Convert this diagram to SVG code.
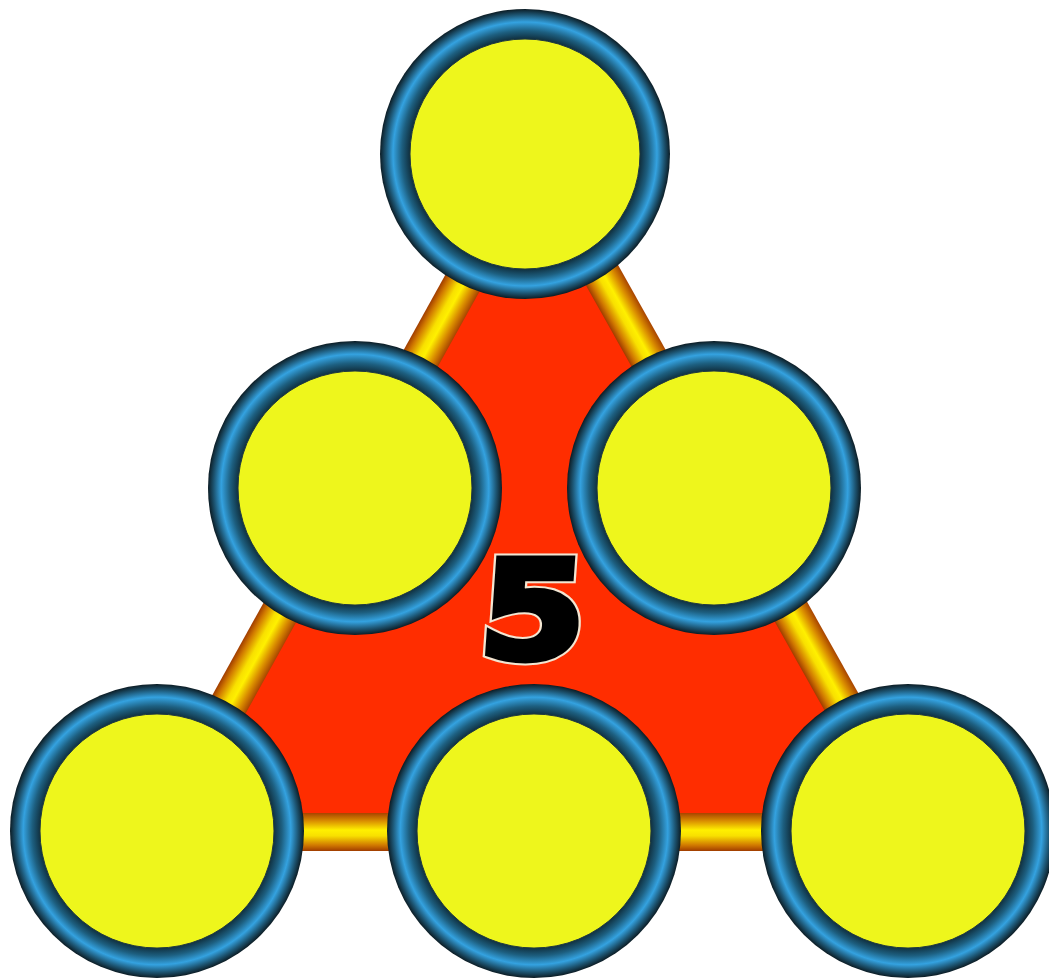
<svg xmlns="http://www.w3.org/2000/svg" width="1049" height="978" viewBox="0 0 1049 978">
  <defs>
    <radialGradient id="ring" cx="0.5" cy="0.5" r="0.5">
      <stop offset="0.79" stop-color="#0f2c3a"/>
      <stop offset="0.85" stop-color="#1d5f80"/>
      <stop offset="0.91" stop-color="#34a2e0"/>
      <stop offset="0.96" stop-color="#1d5674"/>
      <stop offset="1" stop-color="#0c1c24"/>
    </radialGradient>
    <linearGradient id="gold" x1="0" y1="0" x2="0" y2="1">
      <stop offset="0" stop-color="#a84400"/>
      <stop offset="0.2" stop-color="#d88a00"/>
      <stop offset="0.45" stop-color="#fff000"/>
      <stop offset="0.6" stop-color="#f8e000"/>
      <stop offset="0.85" stop-color="#d07800"/>
      <stop offset="1" stop-color="#a03c00"/>
    </linearGradient>
    <style>
      .ring { fill: url(#ring); }
      .face { fill: #eef61c; stroke: #203a40; stroke-width: 1; }
      .num { font-family: "DejaVu Sans", "Liberation Sans", sans-serif; font-weight: bold; font-size: 136px; text-anchor: middle; }
    </style>
  </defs>
  <rect width="1049" height="978" fill="#ffffff"/>

  <g id="triangle">
    <polygon points="534,154 158,832 914,832" fill="#ff2d00"/>
    <g transform="translate(534,154) rotate(119.0)">
      <rect x="0" y="-19" width="775" height="38" fill="url(#gold)"/>
    </g>
    <g transform="translate(534,154) rotate(60.7)">
      <rect x="0" y="-19" width="777" height="38" fill="url(#gold)"/>
    </g>
    <rect x="158" y="813" width="756" height="38" fill="url(#gold)"/>
  </g>

  <g id="label">
    <g transform="translate(530,658) skewX(-4) scale(1.12,1)">
      <text class="num" x="0" y="0" fill="none" stroke="#f3e6d2" stroke-width="11" stroke-linejoin="miter">5</text>
      <text class="num" x="0" y="0" fill="#000000" stroke="#000000" stroke-width="7" stroke-linejoin="miter">5</text>
    </g>
  </g>

  <g id="node-top">
    <circle class="ring" cx="525" cy="154" r="145"/>
    <circle class="face" cx="525" cy="154" r="115"/>
  </g>
  <g id="node-mid-left">
    <circle class="ring" cx="355" cy="488" r="147"/>
    <circle class="face" cx="355" cy="488" r="117"/>
  </g>
  <g id="node-mid-right">
    <circle class="ring" cx="714" cy="488" r="147"/>
    <circle class="face" cx="714" cy="488" r="117"/>
  </g>
  <g id="node-bottom-left">
    <circle class="ring" cx="157" cy="831" r="147"/>
    <circle class="face" cx="157" cy="831" r="117"/>
  </g>
  <g id="node-bottom-middle">
    <circle class="ring" cx="534" cy="831" r="147"/>
    <circle class="face" cx="534" cy="831" r="117"/>
  </g>
  <g id="node-bottom-right">
    <circle class="ring" cx="908" cy="831" r="147"/>
    <circle class="face" cx="908" cy="831" r="117"/>
  </g>
</svg>
